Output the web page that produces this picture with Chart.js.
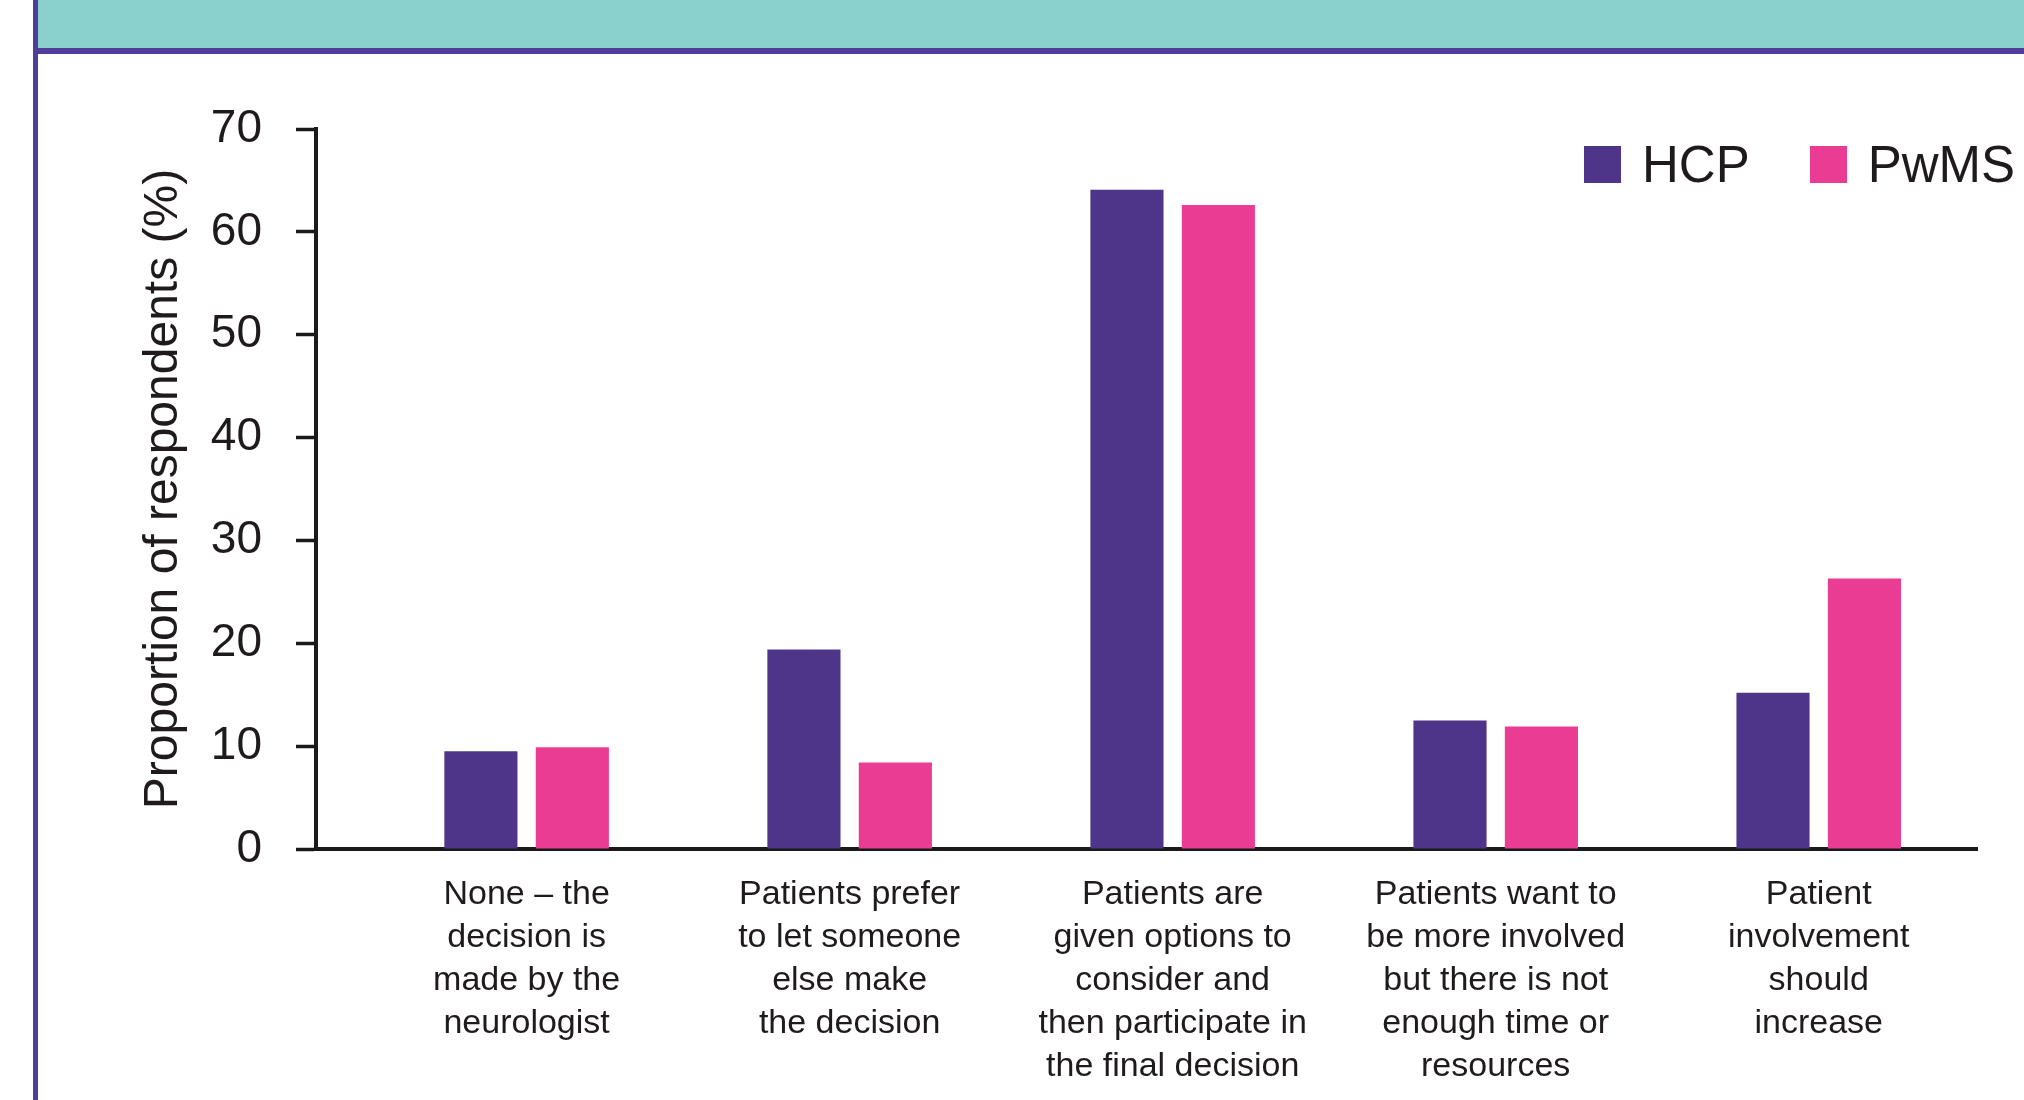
<!DOCTYPE html>
<html>
<head>
<meta charset="utf-8">
<title>Patient involvement in treatment decisions</title>
<script src="https://cdn.jsdelivr.net/npm/chart.js@4.4.1/dist/chart.umd.min.js"></script>
<style>
  html, body { margin: 0; padding: 0; background: #fff; }
  #page {
    position: relative; width: 2024px; height: 1100px; overflow: hidden;
    background: #fff; font-family: "Liberation Sans", Arial, sans-serif; color: #1f1b1c;
  }
  #band {
    position: absolute; left: 36px; top: 0; right: 0; height: 48px;
    background: #8ad1cd; border-bottom: 6px solid #4f3f9b;
  }
  #leftRule { position: absolute; left: 33px; top: 0; width: 5px; height: 1100px; background: #4f3f9b; }
  #chartBox { position: absolute; left: 0; top: 0; width: 2024px; height: 1100px; }
  #legend {
    position: absolute; left: 1584px; top: 134px; height: 60px;
    display: flex; align-items: center; font-size: 51px;
  }
  #legend .item { display: flex; align-items: center; margin-right: 60px; }
  #legend .swatch { width: 37px; height: 37px; margin-right: 21px; }
</style>
</head>
<body>
<div id="page">
  <div id="band"></div>
  <div id="leftRule"></div>
  <div id="chartBox"><canvas id="chart" width="2024" height="1100"></canvas></div>
  <div id="legend"></div>
</div>
<script>
var categories = [
  ["None \u2013 the", "decision is", "made by the", "neurologist"],
  ["Patients prefer", "to let someone", "else make", "the decision"],
  ["Patients are", "given options to", "consider and", "then participate in", "the final decision"],
  ["Patients want to", "be more involved", "but there is not", "enough time or", "resources"],
  ["Patient", "involvement", "should", "increase"]
];
var hcpValues = [9.5, 19.4, 64.1, 12.5, 15.2];
var pwmsValues = [9.9, 8.4, 62.6, 11.9, 26.3];
var yTickValues = [0, 10, 20, 30, 40, 50, 60, 70];

var textColor = "#1f1b1c";
var axisColor = "#1a1a1a";

function toPoints(values) {
  return values.map(function (v, i) { return { x: i, y: v }; });
}

var ctx = document.getElementById("chart").getContext("2d");
var chart = new Chart(ctx, {
  type: "bar",
  data: {
    datasets: [
      { label: "HCP", data: toPoints(hcpValues), backgroundColor: "#4e3589" },
      { label: "PwMS", data: toPoints(pwmsValues), backgroundColor: "#eb3c93" }
    ]
  },
  options: {
    responsive: false,
    devicePixelRatio: 1,
    animation: false,
    barPercentage: 0.8,
    categoryPercentage: 0.566,
    layout: { padding: { top: 129, right: 47, left: 0, bottom: 0 } },
    plugins: {
      legend: { display: false },
      tooltip: { enabled: false }
    },
    scales: {
      x: {
        type: "linear",
        min: -0.652,
        max: 4.49,
        offset: false,
        grid: { display: false, drawTicks: false, offset: false },
        border: { display: true, color: axisColor, width: 4 },
        ticks: {
          stepSize: 1,
          includeBounds: false,
          autoSkip: false,
          maxRotation: 0,
          minRotation: 0,
          padding: 24,
          color: textColor,
          font: { family: "'Liberation Sans', Arial, sans-serif", size: 34, lineHeight: 1.265 },
          callback: function (value) { return categories[value]; }
        },
        afterFit: function (scale) { scale.height = 251; }
      },
      y: {
        min: 0,
        max: 70,
        afterBuildTicks: function (scale) {
          scale.ticks = yTickValues.map(function (v) { return { value: v }; });
        },
        grid: {
          drawOnChartArea: false,
          drawTicks: true,
          tickLength: 20,
          tickWidth: 3.5,
          tickColor: axisColor,
          color: axisColor
        },
        border: { display: true, color: axisColor, width: 4 },
        ticks: {
          padding: 34,
          color: textColor,
          font: { family: "'Liberation Sans', Arial, sans-serif", size: 46 }
        },
        title: {
          display: true,
          text: "Proportion of respondents (%)",
          color: textColor,
          font: { family: "'Liberation Sans', Arial, sans-serif", size: 48 },
          padding: { top: 135, bottom: 0 }
        },
        afterFit: function (scale) { scale.width = 316; }
      }
    }
  }
});

// html legend built from the datasets
var legendEl = document.getElementById("legend");
chart.data.datasets.forEach(function (ds) {
  var item = document.createElement("div");
  item.className = "item";
  var sw = document.createElement("span");
  sw.className = "swatch";
  sw.style.background = ds.backgroundColor;
  var label = document.createElement("span");
  label.textContent = ds.label;
  item.appendChild(sw);
  item.appendChild(label);
  legendEl.appendChild(item);
});
</script>
</body>
</html>
